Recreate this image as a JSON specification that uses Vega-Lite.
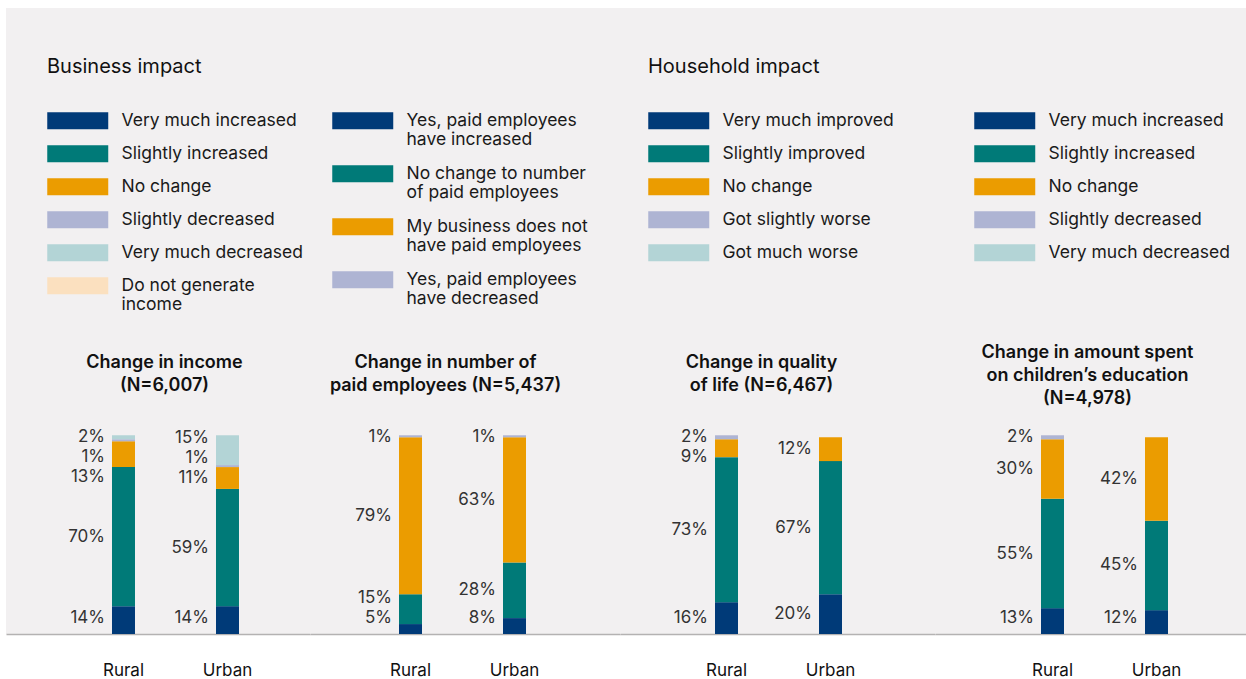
{
  "$schema": "https://vega.github.io/schema/vega-lite/v6.json",
  "padding": {"left": 6, "top": 8, "right": 0, "bottom": 0},
  "background": "#ffffff",
  "spacing": 0,
  "data": {
    "values": [
      {"panel": "income", "area": "Rural", "cat": "Very much increased", "pct": 14},
      {"panel": "income", "area": "Rural", "cat": "Slightly increased", "pct": 70},
      {"panel": "income", "area": "Rural", "cat": "No change", "pct": 13},
      {"panel": "income", "area": "Rural", "cat": "Slightly decreased", "pct": 1},
      {"panel": "income", "area": "Rural", "cat": "Very much decreased", "pct": 2},
      {"panel": "income", "area": "Urban", "cat": "Very much increased", "pct": 14},
      {"panel": "income", "area": "Urban", "cat": "Slightly increased", "pct": 59},
      {"panel": "income", "area": "Urban", "cat": "No change", "pct": 11},
      {"panel": "income", "area": "Urban", "cat": "Slightly decreased", "pct": 1},
      {"panel": "income", "area": "Urban", "cat": "Very much decreased", "pct": 15},
      {"panel": "employees", "area": "Rural", "cat": "Yes, paid employees have increased", "pct": 5},
      {"panel": "employees", "area": "Rural", "cat": "No change to number of paid employees", "pct": 15},
      {"panel": "employees", "area": "Rural", "cat": "My business does not have paid employees", "pct": 79},
      {"panel": "employees", "area": "Rural", "cat": "Yes, paid employees have decreased", "pct": 1},
      {"panel": "employees", "area": "Urban", "cat": "Yes, paid employees have increased", "pct": 8},
      {"panel": "employees", "area": "Urban", "cat": "No change to number of paid employees", "pct": 28},
      {"panel": "employees", "area": "Urban", "cat": "My business does not have paid employees", "pct": 63},
      {"panel": "employees", "area": "Urban", "cat": "Yes, paid employees have decreased", "pct": 1},
      {"panel": "quality", "area": "Rural", "cat": "Very much improved", "pct": 16},
      {"panel": "quality", "area": "Rural", "cat": "Slightly improved", "pct": 73},
      {"panel": "quality", "area": "Rural", "cat": "No change", "pct": 9},
      {"panel": "quality", "area": "Rural", "cat": "Got slightly worse", "pct": 2},
      {"panel": "quality", "area": "Urban", "cat": "Very much improved", "pct": 20},
      {"panel": "quality", "area": "Urban", "cat": "Slightly improved", "pct": 67},
      {"panel": "quality", "area": "Urban", "cat": "No change", "pct": 12},
      {"panel": "education", "area": "Rural", "cat": "Very much increased", "pct": 13},
      {"panel": "education", "area": "Rural", "cat": "Slightly increased", "pct": 55},
      {"panel": "education", "area": "Rural", "cat": "No change", "pct": 30},
      {"panel": "education", "area": "Rural", "cat": "Slightly decreased", "pct": 2},
      {"panel": "education", "area": "Urban", "cat": "Very much increased", "pct": 12},
      {"panel": "education", "area": "Urban", "cat": "Slightly increased", "pct": 45},
      {"panel": "education", "area": "Urban", "cat": "No change", "pct": 42}
    ]
  },
  "resolve": {"scale": {"x": "independent", "y": "independent", "color": "independent"}, "legend": {"color": "independent"}, "axis": {"x": "independent", "y": "independent"}},
  "hconcat": [
    {
      "width": 304, "height": 626,
      "transform": [
        {"filter": "datum.panel == 'income'"},
        {"calculate": "indexof(['Very much increased','Slightly increased','No change','Slightly decreased','Very much decreased','Do not generate income'], datum.cat)", "as": "rank"},
        {"stack": "pct", "groupby": ["area"], "sort": [{"field": "rank", "order": "ascending"}], "as": ["y0", "y1"]},
        {"calculate": "(datum.y0 + datum.y1) / 2", "as": "mid"},
        {"calculate": "(datum.rank == 0 ? max(datum.mid, 8) : datum.mid) - 10 * datum.rank", "as": "a"},
        {"window": [{"op": "max", "field": "a", "as": "am"}], "groupby": ["area"], "sort": [{"field": "rank", "order": "ascending"}], "frame": [null, 0]},
        {"calculate": "datum.am + 10 * datum.rank", "as": "b"},
        {"window": [{"op": "row_number", "as": "t"}], "groupby": ["area"], "sort": [{"field": "rank", "order": "descending"}]},
        {"calculate": "(datum.t == 1 ? min(datum.b, 99) : datum.b) + 10 * (datum.t - 1)", "as": "c2"},
        {"window": [{"op": "min", "field": "c2", "as": "cm"}], "groupby": ["area"], "sort": [{"field": "rank", "order": "descending"}], "frame": [null, 0]},
        {"calculate": "datum.cm - 10 * (datum.t - 1)", "as": "labY"},
        {"calculate": "datum.pct + '%'", "as": "lbl"}
      ],
      "encoding": {
        "x": {"field": "area", "type": "nominal", "scale": {"domain": ["Rural", "Urban"], "paddingInner": 0.5, "paddingOuter": 0.71154, "align": 0.6182},
          "axis": {"title": ["Change in income", "(N=6,007)"], "titleX": 158, "titleY": -272}}
      },
      "layer": [
        {"mark": {"type": "bar", "width": 23},
         "encoding": {
           "y": {"field": "y0", "type": "quantitative", "scale": {"domain": [0, 315], "nice": false, "zero": true}, "axis": null},
           "y2": {"field": "y1"},
           "color": {"field": "cat", "type": "nominal",
             "scale": {"domain": ["Very much increased", "Slightly increased", "No change", "Slightly decreased", "Very much decreased", "Do not generate income"],
                       "range": ["#003A78", "#007A78", "#EB9C00", "#AEB4D3", "#B3D4D6", "#FBE0BF"]},
             "legend": {"legendX": 41, "legendY": 49, "title": "Business impact", "titlePadding": 35,
               "labelExpr": "datum.label == 'Do not generate income' ? ['Do not generate', 'income'] : datum.label"}}
         }},
        {"mark": {"type": "text", "align": "right", "baseline": "middle", "dx": -18.5},
         "encoding": {
           "y": {"field": "labY", "type": "quantitative", "axis": null},
           "text": {"field": "lbl"}
         }}
      ]
    },
    {
      "width": 310, "height": 626,
      "transform": [
        {"filter": "datum.panel == 'employees'"},
        {"calculate": "indexof(['Yes, paid employees have increased','No change to number of paid employees','My business does not have paid employees','Yes, paid employees have decreased'], datum.cat)", "as": "rank"},
        {"stack": "pct", "groupby": ["area"], "sort": [{"field": "rank", "order": "ascending"}], "as": ["y0", "y1"]},
        {"calculate": "(datum.y0 + datum.y1) / 2", "as": "mid"},
        {"calculate": "(datum.rank == 0 ? max(datum.mid, 8) : datum.mid) - 10 * datum.rank", "as": "a"},
        {"window": [{"op": "max", "field": "a", "as": "am"}], "groupby": ["area"], "sort": [{"field": "rank", "order": "ascending"}], "frame": [null, 0]},
        {"calculate": "datum.am + 10 * datum.rank", "as": "b"},
        {"window": [{"op": "row_number", "as": "t"}], "groupby": ["area"], "sort": [{"field": "rank", "order": "descending"}]},
        {"calculate": "(datum.t == 1 ? min(datum.b, 99) : datum.b) + 10 * (datum.t - 1)", "as": "c2"},
        {"window": [{"op": "min", "field": "c2", "as": "cm"}], "groupby": ["area"], "sort": [{"field": "rank", "order": "descending"}], "frame": [null, 0]},
        {"calculate": "datum.cm - 10 * (datum.t - 1)", "as": "labY"},
        {"calculate": "datum.pct + '%'", "as": "lbl"}
      ],
      "encoding": {
        "x": {"field": "area", "type": "nominal", "scale": {"domain": ["Rural", "Urban"], "paddingInner": 0.5, "paddingOuter": 0.74038, "align": 0.48377},
          "axis": {"title": ["Change in number of", "paid employees (N=5,437)"], "titleX": 135, "titleY": -272}}
      },
      "layer": [
        {"mark": {"type": "bar", "width": 23},
         "encoding": {
           "y": {"field": "y0", "type": "quantitative", "scale": {"domain": [0, 315], "nice": false, "zero": true}, "axis": null},
           "y2": {"field": "y1"},
           "color": {"field": "cat", "type": "nominal",
             "scale": {"domain": ["Yes, paid employees have increased", "No change to number of paid employees", "My business does not have paid employees", "Yes, paid employees have decreased"],
                       "range": ["#003A78", "#007A78", "#EB9C00", "#AEB4D3"]},
             "legend": {"legendX": 22, "legendY": 104, "title": null, "rowPadding": 15,
               "labelExpr": "datum.label == 'Yes, paid employees have increased' ? ['Yes, paid employees', 'have increased'] : datum.label == 'No change to number of paid employees' ? ['No change to number', 'of paid employees'] : datum.label == 'My business does not have paid employees' ? ['My business does not', 'have paid employees'] : ['Yes, paid employees', 'have decreased']"}}
         }},
        {"mark": {"type": "text", "align": "right", "baseline": "middle", "dx": -18.5},
         "encoding": {
           "y": {"field": "labY", "type": "quantitative", "axis": null},
           "text": {"field": "lbl"}
         }}
      ]
    },
    {
      "width": 315, "height": 626,
      "transform": [
        {"filter": "datum.panel == 'quality'"},
        {"calculate": "indexof(['Very much improved','Slightly improved','No change','Got slightly worse','Got much worse'], datum.cat)", "as": "rank"},
        {"stack": "pct", "groupby": ["area"], "sort": [{"field": "rank", "order": "ascending"}], "as": ["y0", "y1"]},
        {"calculate": "(datum.y0 + datum.y1) / 2", "as": "mid"},
        {"calculate": "(datum.rank == 0 ? max(datum.mid, 8) : datum.mid) - 10 * datum.rank", "as": "a"},
        {"window": [{"op": "max", "field": "a", "as": "am"}], "groupby": ["area"], "sort": [{"field": "rank", "order": "ascending"}], "frame": [null, 0]},
        {"calculate": "datum.am + 10 * datum.rank", "as": "b"},
        {"window": [{"op": "row_number", "as": "t"}], "groupby": ["area"], "sort": [{"field": "rank", "order": "descending"}]},
        {"calculate": "(datum.t == 1 ? min(datum.b, 99) : datum.b) + 10 * (datum.t - 1)", "as": "c2"},
        {"window": [{"op": "min", "field": "c2", "as": "cm"}], "groupby": ["area"], "sort": [{"field": "rank", "order": "descending"}], "frame": [null, 0]},
        {"calculate": "datum.cm - 10 * (datum.t - 1)", "as": "labY"},
        {"calculate": "datum.pct + '%'", "as": "lbl"}
      ],
      "encoding": {
        "x": {"field": "area", "type": "nominal", "scale": {"domain": ["Rural", "Urban"], "paddingInner": 0.5, "paddingOuter": 0.76442, "align": 0.50629},
          "axis": {"title": ["Change in quality", "of life (N=6,467)"], "titleX": 141, "titleY": -272}}
      },
      "layer": [
        {"mark": {"type": "bar", "width": 23},
         "encoding": {
           "y": {"field": "y0", "type": "quantitative", "scale": {"domain": [0, 315], "nice": false, "zero": true}, "axis": null},
           "y2": {"field": "y1"},
           "color": {"field": "cat", "type": "nominal",
             "scale": {"domain": ["Very much improved", "Slightly improved", "No change", "Got slightly worse", "Got much worse"],
                       "range": ["#003A78", "#007A78", "#EB9C00", "#AEB4D3", "#B3D4D6"]},
             "legend": {"legendX": 28, "legendY": 49, "title": "Household impact", "titlePadding": 35}}
         }},
        {"mark": {"type": "text", "align": "right", "baseline": "middle", "dx": -18.5},
         "encoding": {
           "y": {"field": "labY", "type": "quantitative", "axis": null},
           "text": {"field": "lbl"}
         }}
      ]
    },
    {
      "width": 311, "height": 626,
      "transform": [
        {"filter": "datum.panel == 'education'"},
        {"calculate": "indexof(['Very much increased','Slightly increased','No change','Slightly decreased','Very much decreased'], datum.cat)", "as": "rank"},
        {"stack": "pct", "groupby": ["area"], "sort": [{"field": "rank", "order": "ascending"}], "as": ["y0", "y1"]},
        {"calculate": "(datum.y0 + datum.y1) / 2", "as": "mid"},
        {"calculate": "(datum.rank == 0 ? max(datum.mid, 8) : datum.mid) - 10 * datum.rank", "as": "a"},
        {"window": [{"op": "max", "field": "a", "as": "am"}], "groupby": ["area"], "sort": [{"field": "rank", "order": "ascending"}], "frame": [null, 0]},
        {"calculate": "datum.am + 10 * datum.rank", "as": "b"},
        {"window": [{"op": "row_number", "as": "t"}], "groupby": ["area"], "sort": [{"field": "rank", "order": "descending"}]},
        {"calculate": "(datum.t == 1 ? min(datum.b, 99) : datum.b) + 10 * (datum.t - 1)", "as": "c2"},
        {"window": [{"op": "min", "field": "c2", "as": "cm"}], "groupby": ["area"], "sort": [{"field": "rank", "order": "descending"}], "frame": [null, 0]},
        {"calculate": "datum.cm - 10 * (datum.t - 1)", "as": "labY"},
        {"calculate": "datum.pct + '%'", "as": "lbl"}
      ],
      "encoding": {
        "x": {"field": "area", "type": "nominal", "scale": {"domain": ["Rural", "Urban"], "paddingInner": 0.5, "paddingOuter": 0.74519, "align": 0.59032},
          "axis": {"title": ["Change in amount spent", "on children\u2019s education", "(N=4,978)"], "titleX": 152, "titleY": -282}}
      },
      "layer": [
        {"mark": {"type": "bar", "width": 23},
         "encoding": {
           "y": {"field": "y0", "type": "quantitative", "scale": {"domain": [0, 315], "nice": false, "zero": true}, "axis": null},
           "y2": {"field": "y1"},
           "color": {"field": "cat", "type": "nominal",
             "scale": {"domain": ["Very much increased", "Slightly increased", "No change", "Slightly decreased", "Very much decreased"],
                       "range": ["#003A78", "#007A78", "#EB9C00", "#AEB4D3", "#B3D4D6"]},
             "legend": {"legendX": 39, "legendY": 104, "title": null}}
         }},
        {"mark": {"type": "text", "align": "right", "baseline": "middle", "dx": -18.5},
         "encoding": {
           "y": {"field": "labY", "type": "quantitative", "axis": null},
           "text": {"field": "lbl"}
         }}
      ]
    }
  ],
  "config": {
    "font": "Inter",
    "view": {"fill": "#F2F0F1", "stroke": null},
    "text": {"font": "Inter", "fontSize": 17, "color": "#333333"},
    "axis": {
      "labelFont": "Inter", "labelFontSize": 17, "labelColor": "#111111", "labelAngle": 0, "labelPadding": 28,
      "ticks": false, "grid": false, "domain": true, "domainColor": "#B4B2B2", "domainWidth": 1.5,
      "titleFont": "Inter", "titleFontSize": 18, "titleFontWeight": 600, "titleColor": "#111111",
      "titleAlign": "center", "titleBaseline": "middle", "titleLineHeight": 23, "titleAngle": 0
    },
    "legend": {
      "orient": "none", "direction": "vertical", "padding": 0,
      "symbolType": "M-1,-1H6.176V1H-1Z", "symbolSize": 289, "symbolStrokeWidth": 0, "symbolOpacity": 1,
      "labelFont": "Inter", "labelFontSize": 17.5, "labelColor": "#1A1A1A", "labelOffset": 57, "labelLimit": 400, "labelBaseline": "middle",
      "rowPadding": 14,
      "titleFont": "Inter", "titleFontSize": 20, "titleFontWeight": 400, "titleColor": "#111111", "titlePadding": 36, "titleLimit": 400
    }
  }
}
